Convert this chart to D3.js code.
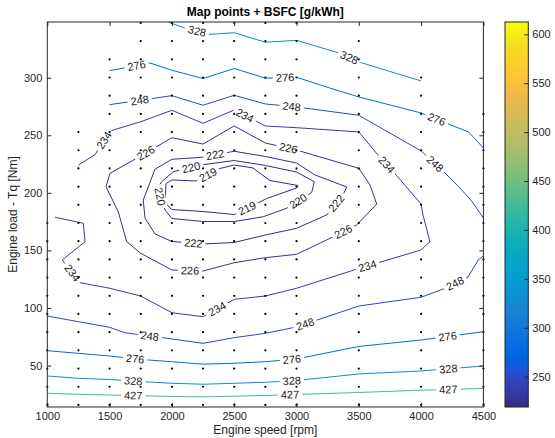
<!DOCTYPE html>
<html><head><meta charset="utf-8">
<script src="https://cdn.jsdelivr.net/npm/d3@7"></script>
<style>
body{margin:0;background:#fff}
text{font-family:"Liberation Sans",Arial,Helvetica,sans-serif}
</style>
</head><body>
<svg id="chart" width="555" height="438"></svg>
<script>
// ---------- data ----------
const speeds = [1000,1250,1500,1750,2000,2250,2500,2750,3000,3500,4000,4500];
const loadLevels = [15.8,31.6,47.4,63.2,79.0,94.8,110.6,126.4,142.2,158.0,173.8,189.6,205.4,221.2,237.0,252.8,268.6,284.4,300.2,316.0,331.8,347.6];
const levelsPerSpeed = [11,16,20,22,22,22,22,22,22,21,19,17];
const contourLevels = [219,220,222,226,234,248,276,328,427];
const xTicks = [1000,1500,2000,2500,3000,3500,4000,4500];
const yTicks = [50,100,150,200,250,300];
const cbTicks = [250,300,350,400,450,500,550,600];
const colorRange = [219,612.6];

// contour polylines [rpm, Nm]
const c219 = [[2386,221.2],[2500,224.2],[2651,221.6],[2787,210.7],[3012,206.4],[3000,204.2],[2761,195.1],[2691,191.2],[2500,181.2],[2250,183.8],[2000,185.5],[1945,191.2],[1953,208.1],[2000,211.2],[2194,210.3],[2386,221.2]];
const l219 = [[2298,214.2],[2600,187.3]];
const c220 = [[2252,224.5],[2011,218.4],[1918,209.7],[1891,204.7],[1905,196.4],[1945,185.1],[2000,177.7],[2250,175.1],[2500,175.1],[2734,179.3],[2921,186.6],[3122,200.3],[3143,209.7],[3000,218.1],[2750,223.8],[2500,228.1],[2252,224.5]];
const l220 = [[2159,219.9],[1905,196.7],[3012,193.2]];
const c222 = [[2225,230.7],[2000,229.2],[1864,220.5],[1770,193.8],[1784,178.2],[1864,164.3],[2000,157.8],[2250,155.6],[2500,156.9],[2750,163.4],[3000,169.2],[3242,180.8],[3373,198.1],[3403,205.1],[3149,215.5],[3000,225.9],[2750,231.6],[2500,236.1],[2225,230.7]];
const l222 = [[2346,233.8],[2172,156.2],[3336,189.5]];
const c226 = [[1570,183.4],[1471,205.4],[1503,217.0],[1750,232.0],[2000,247.9],[2250,242.4],[2500,258.1],[2750,243.3],[3000,237.2],[3500,221.3],[3590,206.8],[3644,190.3],[3483,172.1],[3242,159.1],[3000,146.6],[2750,143.7],[2500,139.3],[2250,132.1],[2000,133.0],[1750,147.5],[1637,157.6],[1570,183.4]];
const l226 = [[1784,235.8],[2934,238.7],[3376,166.3],[2145,132.1]];
const c234 = [[1250,224.2],[1383,233.2],[1503,253.7],[1750,261.8],[2000,271.7],[2250,260.4],[2500,272.0],[2750,258.1],[3000,256.6],[3500,252.9],[3654,232.9],[3804,214.9],[4000,190.3],[4015,180.8],[4071,157.6],[4000,150.4],[3500,134.3],[3000,117.1],[2750,110.4],[2500,107.5],[2250,92.4],[2000,95.9],[1750,110.4],[1503,117.1],[1262,122.0],[1120,141.7],[1303,157.6],[1289,173.6],[1062,178.8]];
const l234 = [[1449,246.2],[2587,267.6],[3724,224.5],[3563,138.8],[2360,99.7],[1196,130.1]];
const c248a = [[1500,276.6],[2000,284.4],[2250,276.1],[2500,284.7],[2750,277.2],[3000,274.6],[3500,267.4],[4000,236.4],[4192,217.3],[4312,204.2],[4407,192.7],[4500,178.2]];
const l248a = [[1738,283.0],[2962,276.1],[4118,225.9]];
const c248b = [[1000,93.0],[1250,88.1],[1500,83.2],[1624,78.5],[2000,73.1],[2250,69.3],[2500,74.2],[2750,78.0],[3000,83.5],[3500,101.7],[4000,109.3],[4192,117.1],[4376,126.9],[4459,141.7],[4500,145.2]];
const l248b = [[1824,76.5],[3068,86.7],[4272,121.4]];
const c276a = [[1500,306.1],[1824,312.8],[2000,306.5],[2250,299.3],[2500,308.0],[2750,299.6],[3000,300.4],[3309,289.6],[3500,283.3],[4000,269.4],[4232,259.2],[4381,252.9],[4500,239.0]];
const l276a = [[1712,313.1],[2908,301.1],[4124,263.7]];
const c276b = [[1000,62.9],[1250,60.6],[1500,58.3],[1750,55.3],[2000,53.3],[2250,51.2],[2500,52.0],[2750,53.3],[3000,55.7],[3500,66.6],[4000,72.2],[4500,79.4]];
const l276b = [[1705,55.7],[2962,56.6],[4212,75.7]];
const c328a = [[1971,348.4],[2105,343.0],[2306,337.7],[2500,339.1],[2750,330.8],[3000,332.5],[3349,321.2],[3500,313.7],[4000,297.2]];
const l328a = [[2201,340.2],[3421,316.9]];
const c328b = [[1000,40.9],[1250,38.9],[1500,37.9],[1750,36.1],[2000,34.6],[2250,33.8],[2500,34.6],[2750,35.5],[3000,37.0],[3500,42.7],[4000,45.3],[4500,49.6]];
const l328b = [[1690,36.8],[2962,37.5],[4218,47.6]];
const c427 = [[1000,25.9],[1250,25.0],[1500,24.4],[1750,23.8],[2000,23.1],[2250,22.8],[2500,23.4],[2750,24.0],[3000,24.9],[3500,26.6],[4000,28.6],[4500,30.1]];
const l427 = [[1690,24.4],[2948,25.3],[4218,29.6]];

const contours = [
  {level:219, pts:c219, labels:l219},
  {level:220, pts:c220, labels:l220},
  {level:222, pts:c222, labels:l222},
  {level:226, pts:c226, labels:l226},
  {level:234, pts:c234, labels:l234},
  {level:248, pts:c248a, labels:l248a},
  {level:248, pts:c248b, labels:l248b},
  {level:276, pts:c276a, labels:l276a},
  {level:276, pts:c276b, labels:l276b},
  {level:328, pts:c328a, labels:l328a},
  {level:328, pts:c328b, labels:l328b},
  {level:427, pts:c427, labels:l427}
];

const parula = [[0.2081,0.1663,0.5292],[0.2116,0.1898,0.5777],[0.2123,0.2138,0.6270],[0.2081,0.2386,0.6771],[0.1959,0.2645,0.7279],[0.1707,0.2919,0.7792],[0.1253,0.3242,0.8303],[0.0591,0.3598,0.8683],[0.0117,0.3875,0.8820],[0.0060,0.4086,0.8828],[0.0165,0.4266,0.8786],[0.0329,0.4430,0.8720],[0.0498,0.4586,0.8641],[0.0629,0.4737,0.8554],[0.0723,0.4887,0.8467],[0.0779,0.5040,0.8384],[0.0793,0.5200,0.8312],[0.0749,0.5375,0.8263],[0.0641,0.5570,0.8240],[0.0488,0.5772,0.8228],[0.0343,0.5966,0.8199],[0.0265,0.6137,0.8135],[0.0239,0.6287,0.8038],[0.0231,0.6418,0.7913],[0.0228,0.6535,0.7768],[0.0267,0.6642,0.7607],[0.0384,0.6743,0.7436],[0.0590,0.6838,0.7254],[0.0843,0.6928,0.7062],[0.1133,0.7015,0.6859],[0.1453,0.7098,0.6646],[0.1801,0.7177,0.6424],[0.2178,0.7250,0.6193],[0.2586,0.7317,0.5954],[0.3022,0.7376,0.5712],[0.3482,0.7424,0.5473],[0.3953,0.7459,0.5244],[0.4420,0.7481,0.5033],[0.4871,0.7491,0.4840],[0.5300,0.7491,0.4661],[0.5709,0.7485,0.4494],[0.6099,0.7473,0.4337],[0.6473,0.7456,0.4188],[0.6834,0.7435,0.4044],[0.7184,0.7411,0.3905],[0.7525,0.7384,0.3768],[0.7858,0.7356,0.3633],[0.8185,0.7327,0.3498],[0.8507,0.7299,0.3360],[0.8824,0.7274,0.3217],[0.9139,0.7258,0.3063],[0.9450,0.7261,0.2886],[0.9739,0.7314,0.2666],[0.9938,0.7455,0.2403],[0.9990,0.7653,0.2164],[0.9955,0.7861,0.1967],[0.9880,0.8066,0.1794],[0.9789,0.8271,0.1633],[0.9697,0.8481,0.1475],[0.9626,0.8705,0.1309],[0.9589,0.8949,0.1132],[0.9598,0.9218,0.0948],[0.9661,0.9514,0.0755],[0.9763,0.9831,0.0538]];

// ---------- drawing ----------
const svg = d3.select("#chart");
const X0=47.3, X1=483.4, Y0=22, Y1=407;
const x = d3.scaleLinear().domain([1000,4500]).range([X0,X1]);
const y = d3.scaleLinear().domain([14,348.4]).range([Y1,Y0]);
const parulaHex = parula.map(c=>d3.rgb(c[0]*255,c[1]*255,c[2]*255).formatHex());
const color = d3.scaleLinear()
  .domain(parula.map((_,i)=>colorRange[0]+(colorRange[1]-colorRange[0])*i/(parula.length-1)))
  .range(parulaHex).clamp(true);
const axisColor = "#262626";

function nearest(pts, p){
  let best=null;
  for(let i=0;i<pts.length-1;i++){
    const a=pts[i], b=pts[i+1];
    const dx=b[0]-a[0], dy=b[1]-a[1];
    const L=dx*dx+dy*dy;
    let t=L?((p[0]-a[0])*dx+(p[1]-a[1])*dy)/L:0;
    t=Math.max(0,Math.min(1,t));
    const q=[a[0]+t*dx,a[1]+t*dy];
    const d=(q[0]-p[0])**2+(q[1]-p[1])**2;
    if(!best||d<best.d) best={d,q,ang:Math.atan2(dy,dx)*180/Math.PI};
  }
  let a=best.ang; if(a>90)a-=180; if(a<=-90)a+=180;
  return {q:best.q, ang:a};
}

const defs = svg.append("defs");
const mask = defs.append("mask").attr("id","lblmask").attr("maskUnits","userSpaceOnUse")
  .attr("x",0).attr("y",0).attr("width",555).attr("height",438);
mask.append("rect").attr("width",555).attr("height",438).attr("fill","#fff");

const clip = defs.append("clipPath").attr("id","plotclip");
clip.append("rect").attr("x",X0).attr("y",Y0).attr("width",X1-X0).attr("height",Y1-Y0);

const points = [];
speeds.forEach((s,i)=>{ for(let k=0;k<levelsPerSpeed[i];k++) points.push([s,loadLevels[k]]); });

const lineGen = d3.line().x(d=>x(d[0])).y(d=>y(d[1]));

const gLines = svg.append("g").attr("mask","url(#lblmask)").attr("clip-path","url(#plotclip)");
const gLabels = svg.append("g");

contours.forEach(c=>{
  gLines.append("path").datum(c.pts).attr("d",lineGen)
    .attr("fill","none").attr("stroke",color(c.level)).attr("stroke-width",1);
  const px = c.pts.map(d=>[x(d[0]),y(d[1])]);
  c.labels.forEach(l=>{
    const n = nearest(px,[x(l[0]),y(l[1])]);
    const t = gLabels.append("text")
      .attr("transform",`translate(${n.q[0]},${n.q[1]}) rotate(${n.ang})`)
      .attr("text-anchor","middle").attr("dy","0.35em")
      .attr("font-size",11).attr("fill","#1a1a1a").text(c.level);
    const w = t.node().getComputedTextLength()+6;
    mask.append("rect").attr("x",-w/2).attr("y",-5.5).attr("width",w).attr("height",11)
      .attr("transform",`translate(${n.q[0]},${n.q[1]}) rotate(${n.ang})`).attr("fill","#000");
  });
});

svg.append("g").selectAll("circle").data(points).join("circle")
  .attr("cx",d=>x(d[0])).attr("cy",d=>y(d[1])).attr("r",1.1).attr("fill","#000");

function styleAxis(g){
  g.select(".domain").remove();
  g.selectAll(".tick line").attr("stroke",axisColor);
  g.selectAll(".tick text").attr("fill",axisColor).attr("font-size",11)
   .attr("font-family","'Liberation Sans',Arial,sans-serif");
}
svg.append("g").attr("transform",`translate(0,${Y1})`)
  .call(d3.axisBottom(x).tickValues(xTicks).tickSize(-4).tickPadding(5).tickFormat(d3.format("d"))).call(styleAxis);
svg.append("g").attr("transform",`translate(0,${Y0})`)
  .call(d3.axisTop(x).tickValues(xTicks).tickSize(-4).tickFormat("")).call(styleAxis);
svg.append("g").attr("transform",`translate(${X0},0)`)
  .call(d3.axisLeft(y).tickValues(yTicks).tickSize(-4).tickPadding(5).tickFormat(d3.format("d"))).call(styleAxis);
svg.append("g").attr("transform",`translate(${X1},0)`)
  .call(d3.axisRight(y).tickValues(yTicks).tickSize(-4).tickFormat("")).call(styleAxis);
svg.append("rect").attr("x",X0).attr("y",Y0).attr("width",X1-X0).attr("height",Y1-Y0)
  .attr("fill","none").attr("stroke",axisColor).attr("stroke-width",1);

svg.append("text").attr("x",(X0+X1)/2).attr("y",16).attr("text-anchor","middle")
  .attr("font-size",12).attr("font-weight","bold").attr("fill","#000").text("Map points + BSFC [g/kWh]");
svg.append("text").attr("x",(X0+X1)/2).attr("y",434).attr("text-anchor","middle")
  .attr("font-size",12).attr("fill",axisColor).text("Engine speed [rpm]");
svg.append("text").attr("transform",`translate(17,${(Y0+Y1)/2}) rotate(-90)`).attr("text-anchor","middle")
  .attr("font-size",12).attr("fill",axisColor).text("Engine load - Tq [Nm]");

const CB0=505, CB1=528.3;
const grad = defs.append("linearGradient").attr("id","cbgrad").attr("x1",0).attr("y1",1).attr("x2",0).attr("y2",0);
parulaHex.forEach((c,i)=>grad.append("stop").attr("offset",i/(parulaHex.length-1)).attr("stop-color",c));
const cy = d3.scaleLinear().domain(colorRange).range([Y1,Y0]);
svg.append("rect").attr("x",CB0).attr("y",Y0).attr("width",CB1-CB0).attr("height",Y1-Y0)
  .attr("fill","url(#cbgrad)").attr("stroke",axisColor).attr("stroke-width",1);
svg.append("g").attr("transform",`translate(${CB1},0)`)
  .call(d3.axisRight(cy).tickValues(cbTicks).tickSize(-4).tickPadding(4).tickFormat(d3.format("d"))).call(styleAxis);
</script>
</body></html>
